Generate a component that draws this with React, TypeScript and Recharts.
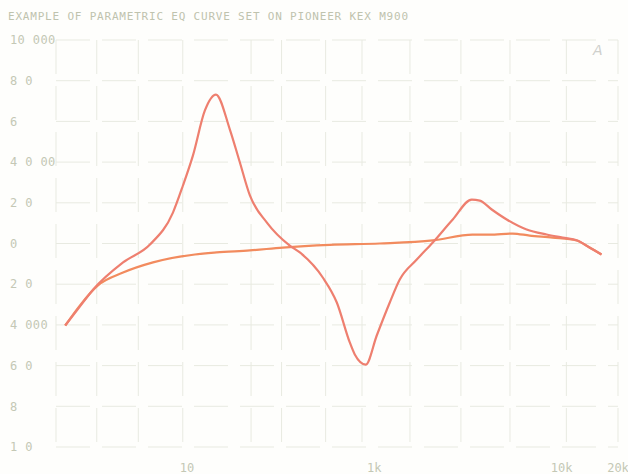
import { LineChart, Line, XAxis, YAxis, CartesianGrid } from "recharts";

// EQ curve with the boost/cut bands
const peakFreq = [22.4, 26.8, 31.6, 45.6, 63.5, 84.2, 95.2, 107.6, 124.7, 142.8, 169.5, 191.7, 216.8, 267.2, 354, 400.6, 531, 631, 740, 787, 901, 1031, 1210, 1368, 1686, 2053, 2624, 3314, 3656, 4236, 5093, 6505, 8318, 10120, 12160, 14090, 16330];
const peakGain = [-4.03, -3.1, -2.26, -0.93, -0.05, 1.52, 2.85, 4.32, 6.54, 7.32, 5.6, 3.98, 2.36, 1.03, -0.1, -0.44, -1.67, -2.9, -4.86, -5.45, -5.95, -4.52, -2.9, -1.77, -0.79, 0.05, 1.18, 2.16, 2.11, 1.67, 1.18, 0.69, 0.44, 0.29, 0.15, -0.2, -0.54];

// flat (bypass) curve
const flatFreq = [22.4, 26.8, 33.5, 45.6, 65.9, 110.3, 143.9, 216.8, 325, 579, 1069, 2053, 3350, 4130, 5480, 6750, 8950, 12020, 14090, 16330];
const flatGain = [-4.03, -3.05, -2.06, -1.43, -0.93, -0.54, -0.44, -0.34, -0.2, -0.07, 0, 0.15, 0.44, 0.44, 0.49, 0.39, 0.29, 0.15, -0.2, -0.54];

const xTicks = [100, 1000, 10000, 20000];
const xTickLabels = ["10", "1k", "10k", "20k"];
const yTicks = [-10, -8, -6, -4, -2, 0, 2, 4, 6, 8, 10];
const yTickLabels = ["1 0", "8", "6 0", "4 000", "2 0", "0", "2 0", "4 0 00", "6", "8 0", "10 000"];
const gridFreq = [33, 55, 78, 95, 220, 320, 440, 550, 760, 860, 1550, 2900, 4200, 5300, 6900, 8400, 9500, 10600];

const peakData = peakFreq.map((f, i) => ({ f, db: peakGain[i] }));
const flatData = flatFreq.map((f, i) => ({ f, db: flatGain[i] }));

const labelColor = "#c4c8b5";
const mono = "'DejaVu Sans Mono', monospace";

const YTick = (props: any) => {
  const { y, payload } = props;
  const idx = yTicks.indexOf(payload.value);
  return (
    <text x={10} y={y} dy="0.35em" textAnchor="start" fill={labelColor} fontSize={12} fontFamily={mono} letterSpacing={0.4}>
      {yTickLabels[idx]}
    </text>
  );
};

export default function App() {
  return (
    <div style={{ position: "absolute", left: 0, top: 0, width: 628, height: 474, background: "#fefefc", overflow: "hidden" }}>
      <div
        style={{
          position: "absolute",
          left: 8,
          top: 10,
          fontFamily: mono,
          fontSize: 11,
          letterSpacing: 0.8,
          color: "#bfc3ae",
          whiteSpace: "nowrap",
        }}
      >
        EXAMPLE OF PARAMETRIC EQ CURVE SET ON PIONEER KEX M900
      </div>
      <div style={{ position: "absolute", left: 593, top: 42, fontFamily: "'DejaVu Sans', sans-serif", fontStyle: "italic", fontSize: 14, color: "#cfd0cc" }}>
        A
      </div>
      <LineChart width={628} height={474} margin={{ top: 40, right: 10, left: 0, bottom: 0 }}>
        <CartesianGrid xAxisId="grid" stroke="#e8eae1" strokeDasharray="34 12" />
        <XAxis
          xAxisId="grid"
          dataKey="f"
          type="number"
          scale="log"
          domain={[20, 20000]}
          allowDataOverflow
          ticks={gridFreq}
          hide
        />
        <XAxis
          dataKey="f"
          type="number"
          scale="log"
          domain={[20, 20000]}
          allowDataOverflow
          ticks={xTicks}
          tickFormatter={(v: number) => xTickLabels[xTicks.indexOf(v)]}
          axisLine={false}
          tickLine={false}
          tickMargin={10}
          height={27}
          tick={{ fill: labelColor, fontSize: 12, fontFamily: mono }}
        />
        <YAxis
          type="number"
          domain={[-10, 10]}
          ticks={yTicks}
          width={56}
          axisLine={false}
          tickLine={false}
          tick={<YTick />}
        />
        <Line
          data={flatData}
          dataKey="db"
          type="monotone"
          stroke="#f28b5e"
          strokeWidth={2.2}
          dot={false}
          isAnimationActive={false}
        />
        <Line
          data={peakData}
          dataKey="db"
          type="monotone"
          stroke="#ee7f6f"
          strokeWidth={2.2}
          dot={false}
          isAnimationActive={false}
        />
      </LineChart>
    </div>
  );
}
